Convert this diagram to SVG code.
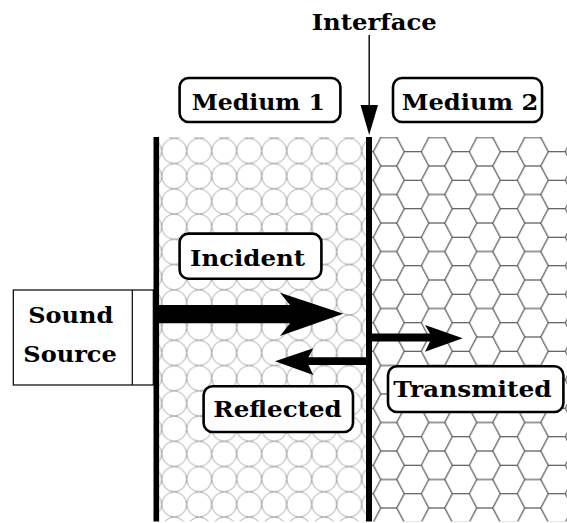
<svg xmlns="http://www.w3.org/2000/svg" width="567" height="523" viewBox="0 0 567 523">
<style>
.lbl{font-family:"DejaVu Serif","Liberation Serif",serif;font-weight:bold;font-size:22.5px;fill:#000;text-anchor:middle}
.box{fill:#fff;stroke:#000;stroke-width:2.6}
.wall{fill:#000}
.arr{fill:#000;stroke:none}
</style>
<defs>
<pattern id="circ" patternUnits="userSpaceOnUse" x="161.7" y="138.3" width="25" height="25.25">
<ellipse cx="12.5" cy="12.625" rx="12.4" ry="12.5" fill="none" stroke="#858585" stroke-width="0.7"/>
</pattern>
<pattern id="hex" patternUnits="userSpaceOnUse" x="373.3" y="137.5" width="48" height="28.5">
<path d="M0,14.25 L7.5,0 L23.5,0 L31,14.25 L23.5,28.5 L7.5,28.5 Z M31,14.25 L48,14.25" fill="none" stroke="#333" stroke-width="1"/>
</pattern>
</defs>
<g id="medium1-region">
<rect x="159" y="137" width="207" height="384.5" fill="url(#circ)"/>
</g>
<g id="medium2-region">
<rect x="372" y="137" width="195" height="384.5" fill="url(#hex)"/>
</g>
<g id="sound-source">
<rect x="13.3" y="290" width="140" height="95" fill="#fff" stroke="#000" stroke-width="1.2"/>
<line x1="132.3" y1="290" x2="132.3" y2="385" stroke="#000" stroke-width="1.2"/>
<text class="lbl" x="70.8" y="323.3" textLength="85" lengthAdjust="spacingAndGlyphs">Sound</text>
<text class="lbl" x="70" y="361.7" textLength="93.4" lengthAdjust="spacingAndGlyphs">Source</text>
</g>
<g id="walls">
<rect class="wall" x="153.5" y="137" width="5.6" height="384.5"/>
<rect class="wall" x="366" y="137" width="6" height="384.5"/>
</g>
<g id="connectors">
<path id="incident-arrow" class="arr" d="M159,305 L290,305 L280,292.7 L343.3,313.8 L280,336 L290,323.3 L159,323.3 Z"/>
<path id="reflected-arrow" class="arr" d="M366,357.3 L308.5,357.3 L313.3,348.3 L275,361.2 L313.3,375 L308.5,365 L366,365 Z"/>
<path id="transmitted-arrow" class="arr" d="M372,333.6 L430,333.6 L425,325 L462.7,338.2 L425,351.7 L430,341.6 L372,341.6 Z"/>
<g id="interface-pointer">
<line x1="369.2" y1="35" x2="369.2" y2="108" stroke="#000" stroke-width="1.4"/>
<path class="arr" d="M360.5,105 L378,105 L369.2,135 Z"/>
</g>
</g>
<g id="interface-label">
<text class="lbl" x="374.2" y="30" textLength="125" lengthAdjust="spacingAndGlyphs">Interface</text>
</g>
<g id="medium1">
<rect class="box" x="179.6" y="78" width="160.8" height="44" rx="9"/>
<text class="lbl" x="258.3" y="110" textLength="133.3" lengthAdjust="spacingAndGlyphs">Medium 1</text>
</g>
<g id="medium2">
<rect class="box" x="393" y="78" width="149" height="44" rx="9"/>
<text class="lbl" x="470" y="110" textLength="136.6" lengthAdjust="spacingAndGlyphs">Medium 2</text>
</g>
<g id="incident">
<rect class="box" x="179.6" y="233.6" width="141.8" height="45.1" rx="9"/>
<text class="lbl" x="247.5" y="265.7" textLength="115" lengthAdjust="spacingAndGlyphs">Incident</text>
</g>
<g id="reflected">
<rect class="box" x="203.6" y="386.3" width="149.4" height="45.7" rx="9"/>
<text class="lbl" x="277.5" y="416.7" textLength="128.4" lengthAdjust="spacingAndGlyphs">Reflected</text>
</g>
<g id="transmited">
<rect class="box" x="388" y="366.3" width="175.4" height="45.7" rx="9"/>
<text class="lbl" x="472.5" y="397.3" textLength="158.4" lengthAdjust="spacingAndGlyphs">Transmited</text>
</g>
</svg>
